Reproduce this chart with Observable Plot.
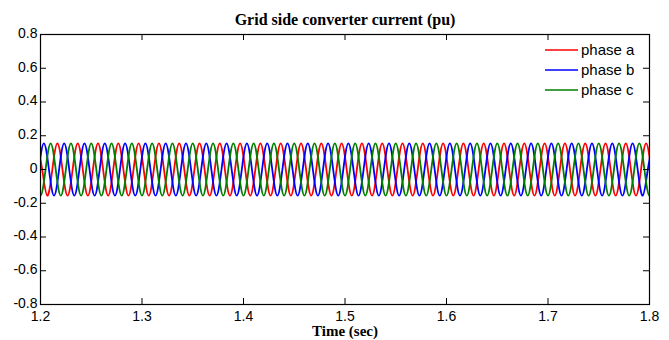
<!DOCTYPE html>
<html>
<head>
<meta charset="utf-8">
<script src="https://cdn.jsdelivr.net/npm/d3@7"></script>
<script src="https://cdn.jsdelivr.net/npm/@observablehq/plot@0.6"></script>
<style>
  html, body { margin: 0; padding: 0; background: #fff; }
  #chart svg { display: block; }
</style>
</head>
<body>
<div id="chart"></div>
<script>
// ---- data ----
const titleText = "Grid side converter current (pu)";
const xLabelText = "Time (sec)";
const xTicks = [1.2, 1.3, 1.4, 1.5, 1.6, 1.7, 1.8];
const xTickLabels = ["1.2", "1.3", "1.4", "1.5", "1.6", "1.7", "1.8"];
const yTicks = [-0.8, -0.6, -0.4, -0.2, 0, 0.2, 0.4, 0.6, 0.8];
const yTickLabels = ["-0.8", "-0.6", "-0.4", "-0.2", "0", "0.2", "0.4", "0.6", "0.8"];
const seriesNames = ["phase a", "phase b", "phase c"];
const seriesColors = ["#ff0000", "#0000ff", "#008000"];

// samples taken every quarter period (0.005 s) at each phase's peaks and zero crossings
const sampleStep = 0.005;
const startA = 1.1966667;
const startB = 1.1983333;
const startC = 1.195;

const phaseA = [
  0.155, 0, -0.155, 0, 0.155, 0, -0.155, 0,
  0.155, 0, -0.155, 0, 0.155, 0, -0.155, 0,
  0.155, 0, -0.155, 0, 0.155, 0, -0.155, 0,
  0.155, 0, -0.155, 0, 0.155, 0, -0.155, 0,
  0.155, 0, -0.155, 0, 0.155, 0, -0.155, 0,
  0.155, 0, -0.155, 0, 0.155, 0, -0.155, 0,
  0.155, 0, -0.155, 0, 0.155, 0, -0.155, 0,
  0.155, 0, -0.155, 0, 0.155, 0, -0.155, 0,
  0.155, 0, -0.155, 0, 0.155, 0, -0.155, 0,
  0.155, 0, -0.155, 0, 0.155, 0, -0.155, 0,
  0.155, 0, -0.155, 0, 0.155, 0, -0.155, 0,
  0.155, 0, -0.155, 0, 0.155, 0, -0.155, 0,
  0.155, 0, -0.155, 0, 0.155, 0, -0.155, 0,
  0.155, 0, -0.155, 0, 0.155, 0, -0.155, 0,
  0.155, 0, -0.155, 0, 0.155, 0, -0.155, 0,
  0.155, 0
];
const phaseB = [
  0, 0.155, 0, -0.155, 0, 0.155, 0, -0.155,
  0, 0.155, 0, -0.155, 0, 0.155, 0, -0.155,
  0, 0.155, 0, -0.155, 0, 0.155, 0, -0.155,
  0, 0.155, 0, -0.155, 0, 0.155, 0, -0.155,
  0, 0.155, 0, -0.155, 0, 0.155, 0, -0.155,
  0, 0.155, 0, -0.155, 0, 0.155, 0, -0.155,
  0, 0.155, 0, -0.155, 0, 0.155, 0, -0.155,
  0, 0.155, 0, -0.155, 0, 0.155, 0, -0.155,
  0, 0.155, 0, -0.155, 0, 0.155, 0, -0.155,
  0, 0.155, 0, -0.155, 0, 0.155, 0, -0.155,
  0, 0.155, 0, -0.155, 0, 0.155, 0, -0.155,
  0, 0.155, 0, -0.155, 0, 0.155, 0, -0.155,
  0, 0.155, 0, -0.155, 0, 0.155, 0, -0.155,
  0, 0.155, 0, -0.155, 0, 0.155, 0, -0.155,
  0, 0.155, 0, -0.155, 0, 0.155, 0, -0.155,
  0, 0.155
];
const phaseC = [
  0, -0.155, 0, 0.155, 0, -0.155, 0, 0.155,
  0, -0.155, 0, 0.155, 0, -0.155, 0, 0.155,
  0, -0.155, 0, 0.155, 0, -0.155, 0, 0.155,
  0, -0.155, 0, 0.155, 0, -0.155, 0, 0.155,
  0, -0.155, 0, 0.155, 0, -0.155, 0, 0.155,
  0, -0.155, 0, 0.155, 0, -0.155, 0, 0.155,
  0, -0.155, 0, 0.155, 0, -0.155, 0, 0.155,
  0, -0.155, 0, 0.155, 0, -0.155, 0, 0.155,
  0, -0.155, 0, 0.155, 0, -0.155, 0, 0.155,
  0, -0.155, 0, 0.155, 0, -0.155, 0, 0.155,
  0, -0.155, 0, 0.155, 0, -0.155, 0, 0.155,
  0, -0.155, 0, 0.155, 0, -0.155, 0, 0.155,
  0, -0.155, 0, 0.155, 0, -0.155, 0, 0.155,
  0, -0.155, 0, 0.155, 0, -0.155, 0, 0.155,
  0, -0.155, 0, 0.155, 0, -0.155, 0, 0.155,
  0, -0.155, 0
];

// ---- build table ----
const seriesValues = [phaseA, phaseB, phaseC];
const seriesStarts = [startA, startB, startC];
const rows = [];
seriesValues.forEach((vals, k) => {
  vals.forEach((v, i) => rows.push({t: seriesStarts[k] + i * sampleStep, v, s: seriesNames[k]}));
});

// ---- layout ----
const W = 669, H = 340;
const mT = 34, mB = 36, mL = 40, mR = 20;
const frameW = W - mL - mR, frameH = H - mT - mB;
const tickLen = 6;
const sansFont = "'Liberation Sans', Arial, sans-serif";
const serifFont = "'Liberation Serif', 'Times New Roman', serif";

const chart = Plot.plot({
  width: W,
  height: H,
  marginTop: mT,
  marginBottom: mB,
  marginLeft: mL,
  marginRight: mR,
  style: {background: "#fff", fontFamily: sansFont},
  x: {domain: [1.2, 1.8], axis: null},
  y: {domain: [-0.8, 0.8], axis: null},
  color: {domain: seriesNames, range: seriesColors},
  marks: [
    Plot.line(rows, {x: "t", y: "v", z: "s", stroke: "s", curve: "natural", strokeWidth: 1.8, clip: true}),
    Plot.frame({stroke: "#000", strokeWidth: 1.2}),
    // inward ticks, MATLAB style, on all four sides
    Plot.tickX(xTicks, {x: d => d, insetTop: frameH - tickLen, stroke: "#000"}),
    Plot.tickX(xTicks, {x: d => d, insetBottom: frameH - tickLen, stroke: "#000"}),
    Plot.tickY(yTicks, {y: d => d, insetRight: frameW - tickLen, stroke: "#000"}),
    Plot.tickY(yTicks, {y: d => d, insetLeft: frameW - tickLen, stroke: "#000"}),
    // tick labels
    Plot.text(xTicks, {x: d => d, text: (d, i) => xTickLabels[i], frameAnchor: "bottom", dy: 12, lineAnchor: "middle", fontSize: 14, fill: "#000", fontFamily: sansFont}),
    Plot.text(yTicks, {y: d => d, text: (d, i) => yTickLabels[i], frameAnchor: "left", dx: -3, dy: -1, textAnchor: "end", fontSize: 14, fill: "#000", fontFamily: sansFont}),
    // title and axis label
    Plot.text([titleText], {text: d => d, frameAnchor: "top", dy: -15, lineAnchor: "middle", fontSize: 16, fontWeight: "bold", fill: "#000", fontFamily: serifFont}),
    Plot.text([xLabelText], {text: d => d, frameAnchor: "bottom", dy: 27, lineAnchor: "middle", fontSize: 15, fontWeight: "bold", fill: "#000", fontFamily: serifFont})
  ]
});

// legend (top-right, no box)
const svg = d3.select(chart);
const leg = svg.append("g").attr("font-family", sansFont).attr("font-size", 15).attr("text-anchor", "start");
seriesNames.forEach((name, i) => {
  const y = 50 + i * 20;
  leg.append("line").attr("x1", 545).attr("x2", 578).attr("y1", y).attr("y2", y)
    .attr("stroke", seriesColors[i]).attr("stroke-width", 1.6);
  leg.append("text").attr("x", 581).attr("y", y).attr("dy", "0.35em")
    .attr("text-anchor", "start").attr("fill", "#000").text(name);
});

document.getElementById("chart").appendChild(chart);
</script>
</body>
</html>
